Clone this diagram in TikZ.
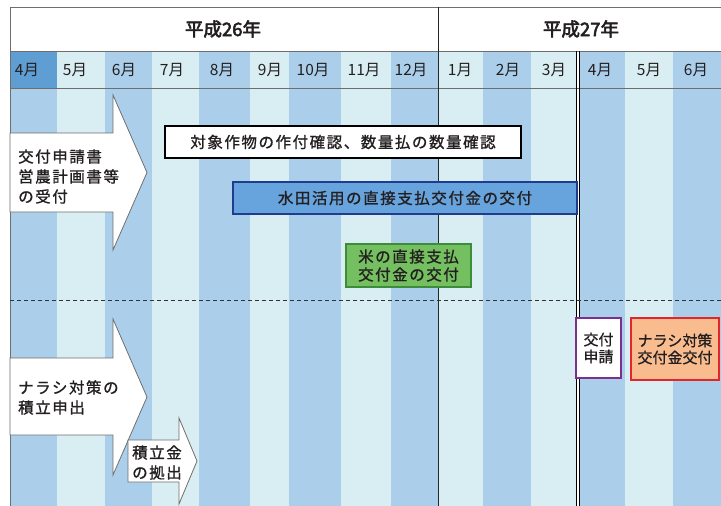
\documentclass[tikz,border=0pt]{standalone}
\usepackage{fontspec}
\setmainfont{Noto Sans CJK JP}[FakeBold=0.9]
\newfontfamily\jpreg{Noto Sans CJK JP}
\newfontfamily\jpsp[LetterSpace=10,FakeBold=1.1]{Noto Sans CJK JP}
\newfontfamily\jpbd[FakeBold=3]{Noto Sans CJK JP}
\definecolor{stripeDk}{HTML}{ABCFEB}
\definecolor{stripeLt}{HTML}{D9EEF2}
\definecolor{hdrFour}{HTML}{5F9ED3}
\definecolor{blueFill}{HTML}{67A3DC}
\definecolor{blueDraw}{HTML}{1F3D8C}
\definecolor{greenFill}{HTML}{74BF5F}
\definecolor{greenDraw}{HTML}{3C8C3C}
\definecolor{orangeFill}{HTML}{F9BC8F}
\definecolor{redDraw}{HTML}{E2262C}
\definecolor{purpleDraw}{HTML}{7B2F8F}
\definecolor{txt}{HTML}{231F20}
\definecolor{gridGray}{HTML}{6E6E6E}
\begin{document}
\begin{tikzpicture}[x=1pt,y=-1pt,
  monthlbl/.style={text=txt,inner sep=0pt,font=\jpreg\fontsize{15.5}{17}\selectfont},
  yearlbl/.style={text=txt,inner sep=0pt,font=\jpbd\fontsize{18.5}{20}\selectfont},
  arrowshape/.style={fill=white,draw=gridGray,line width=0.8pt,line join=miter},
  arrowtxt/.style={text=txt,inner sep=0pt,align=left,anchor=west,font=\jpsp\fontsize{15.5}{20}\selectfont},
  boxtxt/.style={text=txt,inner sep=0pt,align=center,font=\jpsp\fontsize{15.5}{18}\selectfont},
  tightbox/.style={text=txt,inner sep=0pt,align=center,font=\fontsize{15}{17}\selectfont},
  wbox/.style={boxtxt,fill=white,draw=black,line width=2pt},
  bbox/.style={boxtxt,fill=blueFill,draw=blueDraw,line width=2pt},
  gbox/.style={boxtxt,fill=greenFill,draw=greenDraw,line width=1.8pt},
  pbox/.style={tightbox,fill=white,draw=purpleDraw,line width=2.8pt},
  obox/.style={tightbox,fill=orangeFill,draw=redDraw,line width=2.8pt},
]
\useasboundingbox (0,0) rectangle (721,506);
\clip (0,0) rectangle (721,506);
\fill[white] (0,0) rectangle (721,506);
% stripes (month row and body)
\foreach \a/\b/\c in {10/57/stripeDk,57/105/stripeLt,105/152/stripeDk,152/199/stripeLt,199/250/stripeDk,250/289/stripeLt,289/341/stripeDk,341/391/stripeLt,391/438/stripeDk,438/483/stripeLt,483/531/stripeDk,531/576/stripeLt,579/625/stripeDk,625/673/stripeLt,673/721/stripeDk}
  \fill[\c] (\a,51) rectangle (\b,506);
\fill[white] (576,51) rectangle (579,506);
\fill[hdrFour] (10,51) rectangle (57,89);
% grid lines
\draw[gridGray,line width=1pt] (10,7) -- (721,7);
\draw[gridGray,line width=1pt] (10,51) -- (721,51);
\draw[gridGray,line width=1pt] (10,88.5) -- (721,88.5);
\draw[gridGray,line width=1pt] (10.5,7) -- (10.5,506);
\draw[black!85,line width=0.8pt] (438,7) -- (438,506);
\draw[black,line width=0.9pt] (576,51) -- (576,506);
\draw[black,line width=0.9pt] (579,51) -- (579,506);
\draw[black!80,line width=0.8pt,dash pattern=on 4pt off 3pt] (10,300) -- (721,300);
% year headers
\node[yearlbl] (y26) at (223,29) {平成26年};
\node[yearlbl] (y27) at (581,29) {平成27年};
% month labels
\foreach \x/\m [count=\i] in {27/4,75/5,124/6,172/7,222/8,270/9,313/10,364/11,411/12,460/1,508/2,554/3,600/4,649/5,696/6}
  \node[monthlbl] (m\i) at (\x,70) {\m{}月};
% arrows
\draw[arrowshape] (10,133) -- (113,133) -- (113,95) -- (147,172.5) -- (113,250) -- (113,212) -- (10,212) -- cycle;
\node[arrowtxt] (a1) at (18,176.5) {交付申請書\\営農計画書等\\の受付};
\draw[arrowshape] (10,358) -- (113,358) -- (113,319) -- (147,397) -- (113,475) -- (113,435) -- (10,435) -- cycle;
\node[arrowtxt] (a2) at (18,397.5) {ナラシ対策の\\積立申出};
\draw[arrowshape] (128,440) -- (179,440) -- (179,418) -- (197,461) -- (179,504) -- (179,482) -- (128,482) -- cycle;
\node[arrowtxt] (a3) at (132,462.5) {積立金\\の拠出};
% boxes
\node[wbox,minimum width=356pt,minimum height=32pt] (b1) at (343,142) {対象作物の作付確認、数量払の数量確認};
\node[bbox,minimum width=344pt,minimum height=32pt] (b2) at (405,198) {水田活用の直接支払交付金の交付};
\node[gbox,minimum width=125pt,minimum height=43pt] (b3) at (408.5,265.5) {米の直接支払\\交付金の交付};
\node[pbox,minimum width=45pt,minimum height=60pt] (b4) at (598.5,348) {交付\\申請};
\node[obox,minimum width=88pt,minimum height=62pt] (b5) at (675,349) {ナラシ対策\\交付金交付};
\end{tikzpicture}
\end{document}
